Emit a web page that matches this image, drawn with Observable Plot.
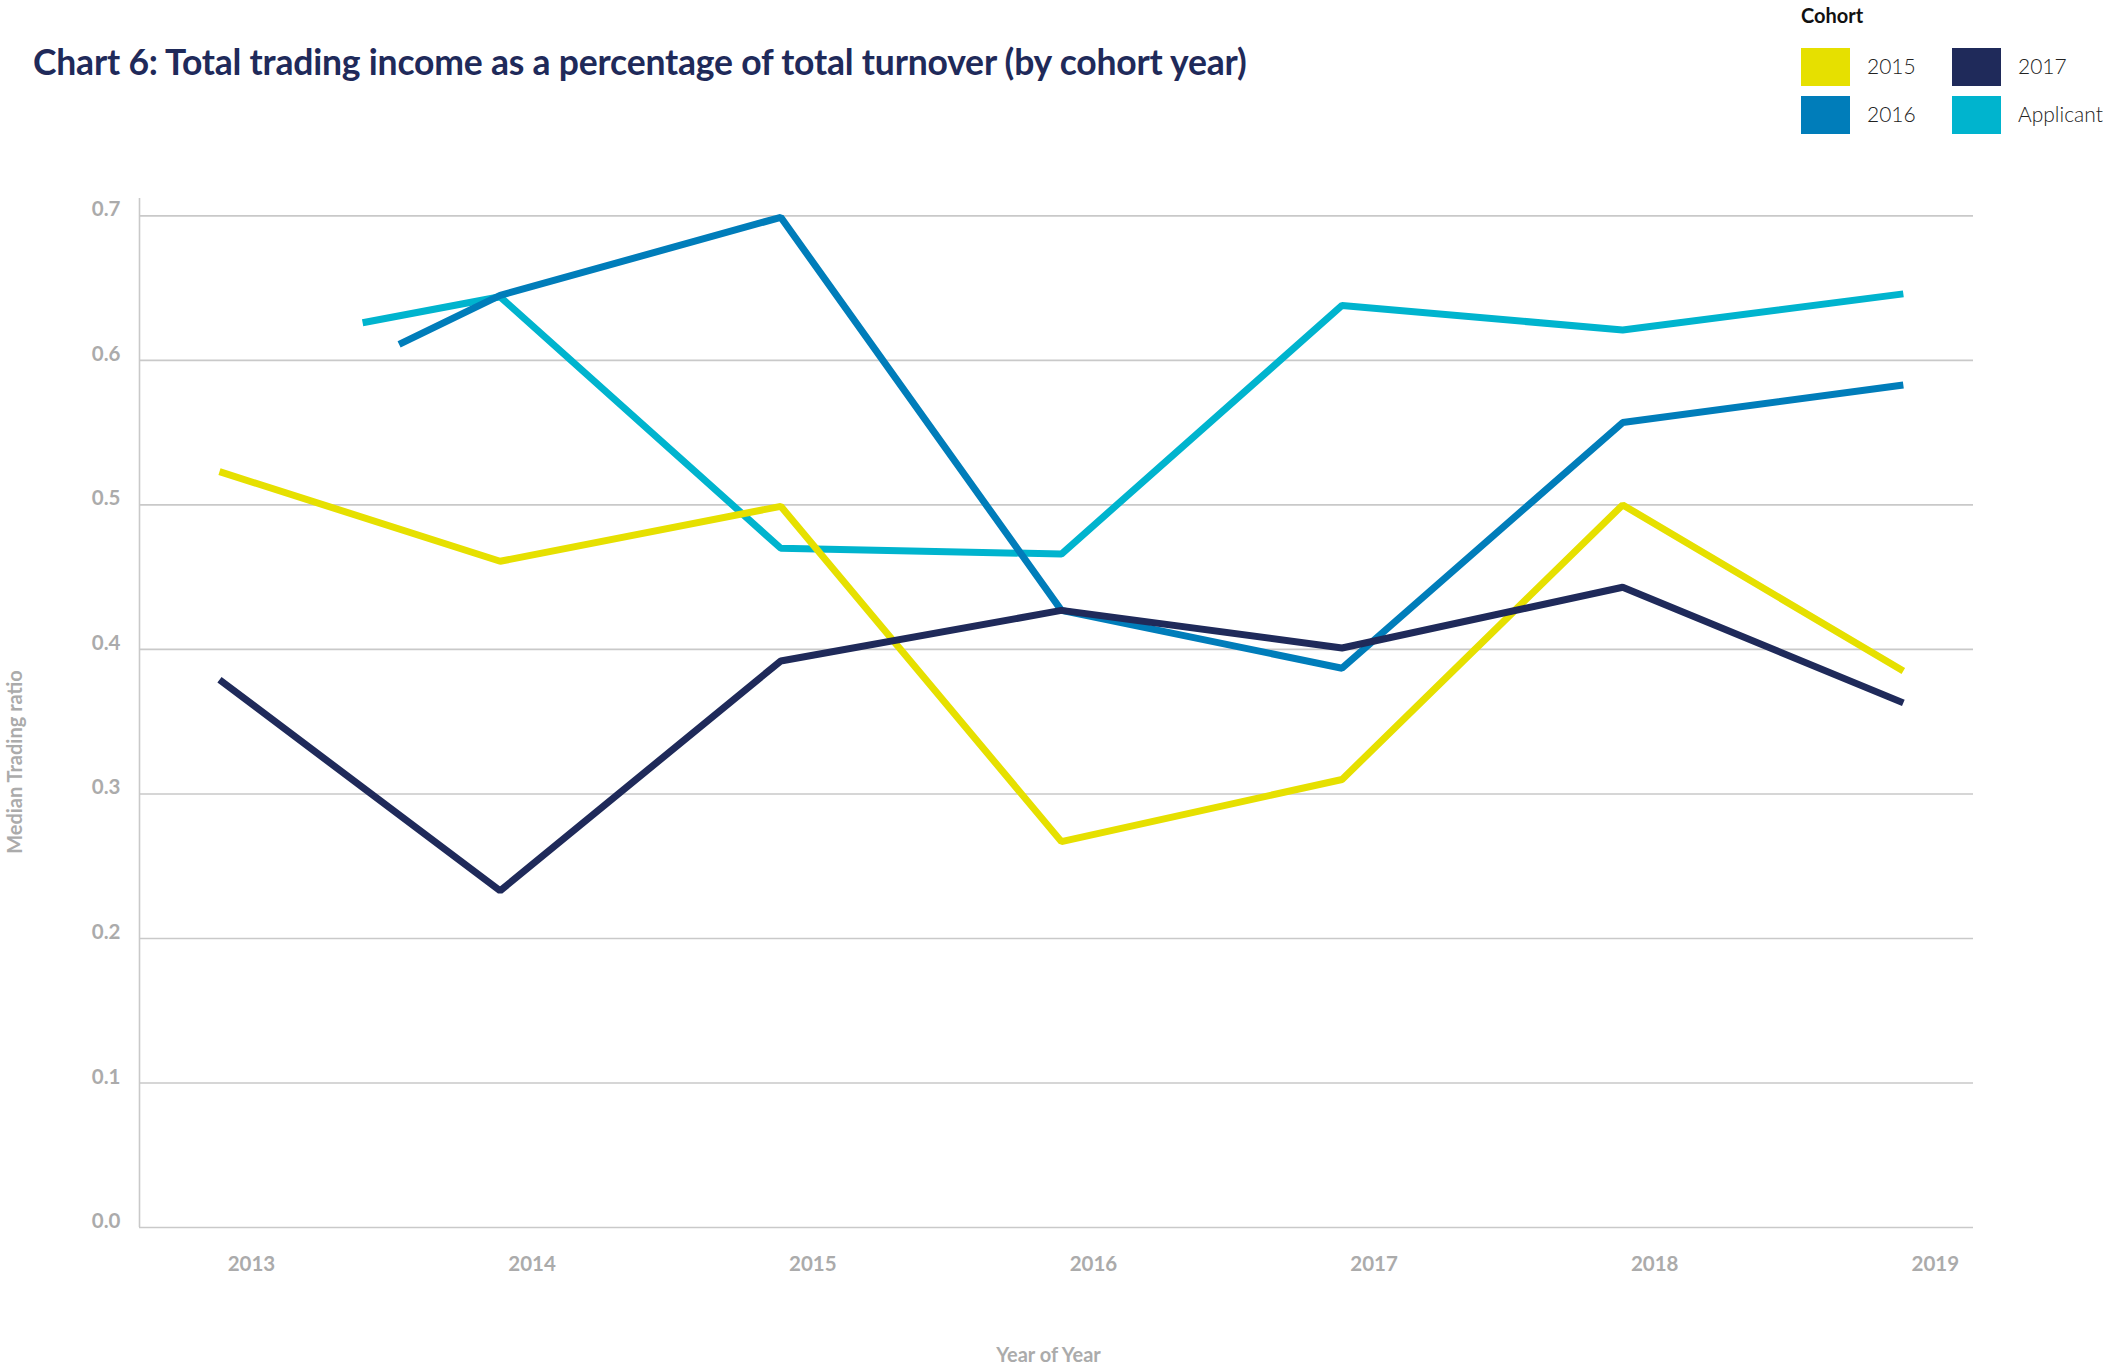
<!DOCTYPE html>
<html>
<head>
<meta charset="utf-8">
<script src="https://cdn.jsdelivr.net/npm/d3@7"></script>
<script src="https://cdn.jsdelivr.net/npm/@observablehq/plot@0.6"></script>
<style>
  html, body { margin: 0; padding: 0; background: #fff; }
  #page { position: relative; width: 2112px; height: 1367px; overflow: hidden; font-family: Lato, "Open Sans", sans-serif; }
  #title { position: absolute; left: 33px; top: 40px; font-size: 35.5px; font-weight: 700; color: #1F2A5A; white-space: nowrap; letter-spacing: -0.2px; }
  #legend { position: absolute; left: 1801px; top: 0px; }
  #legend .head { position: absolute; left: 0; top: 3px; font-size: 20px; font-weight: 700; color: #111; white-space: nowrap; }
  #legend .item { position: absolute; display: flex; align-items: center; white-space: nowrap; }
  #legend .sw { width: 49px; height: 38px; margin-right: 17px; }
  #legend .lab { font-size: 21px; color: #222; font-weight: 300; position: relative; top: -2px; }
  #chart { position: absolute; left: 0; top: 150px; }
</style>
</head>
<body>
<div id="page">
  <div id="title">Chart 6: Total trading income as a percentage of total turnover (by cohort year)</div>
  <div id="legend"></div>
  <div id="chart"></div>
</div>
<script>
// ---- Data ----
const years = [2013, 2014, 2015, 2016, 2017, 2018, 2019];
const cohort2015 = [0.523, 0.461, 0.499, 0.267, 0.310, 0.500, 0.385];
const cohort2016Years = [2013.64, 2014, 2015, 2016, 2017, 2018, 2019];
const cohort2016 = [0.611, 0.645, 0.699, 0.427, 0.387, 0.557, 0.583];
const cohort2017 = [0.379, 0.233, 0.392, 0.427, 0.401, 0.443, 0.363];
const applicantYears = [2013.51, 2014, 2015, 2016, 2017, 2018, 2019];
const applicant = [0.626, 0.644, 0.470, 0.466, 0.638, 0.621, 0.646];

const seriesNames = ["2015", "2016", "2017", "Applicant"];
const seriesColors = ["#E6E000", "#007DBA", "#1F2A5A", "#00B4CE"];
const yTicks = [0, 0.1, 0.2, 0.3, 0.4, 0.5, 0.6, 0.7];
const xTicks = years;

// drawing order (bottom to top)
const drawOrder = ["Applicant", "2015", "2016", "2017"];

const rows = [];
years.forEach((y, i) => rows.push({series: "2015", year: y, value: cohort2015[i]}));
cohort2016Years.forEach((y, i) => rows.push({series: "2016", year: y, value: cohort2016[i]}));
years.forEach((y, i) => rows.push({series: "2017", year: y, value: cohort2017[i]}));
applicantYears.forEach((y, i) => rows.push({series: "Applicant", year: y, value: applicant[i]}));

const xDomain = [2012.715, 2019.25];
const gridColor = "#c9c9c9";
const axisText = "#ababab";

const chart = Plot.plot({
  width: 2112,
  height: 1217,
  marginLeft: 139,
  marginRight: 139,
  marginTop: 48,
  marginBottom: 140,
  style: { fontFamily: "Lato, 'Open Sans', sans-serif", background: "transparent" },
  x: { domain: xDomain, axis: null },
  y: { domain: [0, 0.712], axis: null },
  color: { domain: seriesNames, range: seriesColors },
  marks: [
    Plot.ruleY(yTicks, { stroke: gridColor, strokeWidth: 1.6 }),
    Plot.ruleX([xDomain[0]], { stroke: gridColor, strokeWidth: 1.6 }),
    Plot.axisY({
      ticks: yTicks, tickSize: 0, tickPadding: 19, dy: -6,
      tickFormat: d3.format(".1f"), label: null,
      fontSize: 20.5, fontWeight: 700, fill: axisText
    }),
    Plot.axisX({
      ticks: xTicks, tickSize: 0, tickPadding: 29, dx: 32,
      tickFormat: d => String(d), label: null,
      fontSize: 20.5, fontWeight: 700, fill: axisText
    }),
    Plot.text(["Year of Year"], {
      frameAnchor: "bottom", textAnchor: "middle", dx: -8, dy: 134, fontSize: 20, fontWeight: 700, fill: axisText
    }),
    Plot.text(["Median Trading ratio"], {
      frameAnchor: "left", textAnchor: "middle", rotate: -90, dx: -124, dy: 49, fontSize: 20, fontWeight: 700, fill: axisText
    }),
    ...drawOrder.map(name => Plot.line(rows.filter(r => r.series === name), {
      x: "year", y: "value", stroke: "series",
      strokeWidth: 7, strokeLinejoin: "miter", strokeLinecap: "butt", curve: "linear"
    }))
  ]
});
document.getElementById("chart").appendChild(chart);

// ---- Legend ----
const legend = document.getElementById("legend");
const head = document.createElement("div");
head.className = "head"; head.textContent = "Cohort";
legend.appendChild(head);
const legendLayout = [["2015", 0, 48], ["2016", 0, 96], ["2017", 151, 48], ["Applicant", 151, 96]];
legendLayout.forEach(([name, lx, ly]) => {
  const item = document.createElement("div");
  item.className = "item";
  item.style.left = lx + "px"; item.style.top = ly + "px";
  const sw = document.createElement("div");
  sw.className = "sw";
  sw.style.background = seriesColors[seriesNames.indexOf(name)];
  const lab = document.createElement("div");
  lab.className = "lab"; lab.textContent = name;
  item.appendChild(sw); item.appendChild(lab);
  legend.appendChild(item);
});
</script>
</body>
</html>
